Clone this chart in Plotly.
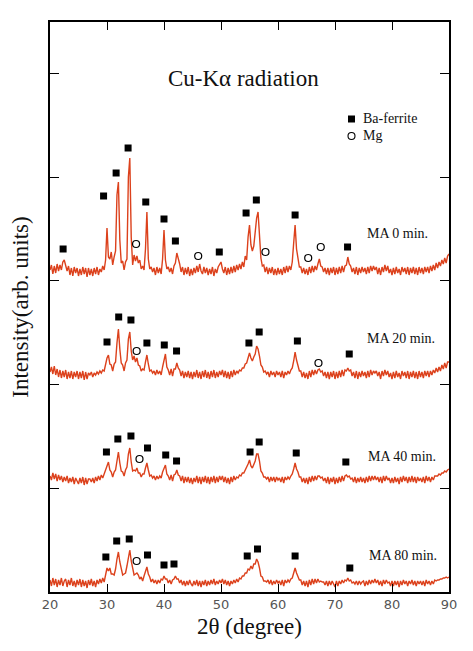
import numpy as np
import plotly.graph_objects as go

# ---------------- data ----------------
two_theta_start = 20.0
two_theta_step = 0.25
two_theta_end = 90.0

series_names = ["MA 0 min.", "MA 20 min.", "MA 40 min.", "MA 80 min."]
offsets = [319, 215, 110, 7]

ma0 = [
    3, 8, -1, 7, 0, 9, 2, 8, 3, 11, 13, 6, 2, 7, -2, 5, -3, 6, 0, 5,
    -3, 4, -2, 6, -1, 5, -4, 5, -2, 4, -3, 5, -1, 6, -2, 4, 1, 7, 3, 13,
    45, 16, 14, 21, 8, 16, 22, 78, 91, 33, 10, 12, 3, 11, 14, 96, 115, 36, 8, 18,
    12, 17, 10, 13, 4, 7, 3, 24, 61, 14, 4, 6, 1, 5, -2, 6, 0, 5, -1, 14,
    43, 13, 4, 6, 1, 5, -1, 7, 10, 20, 15, 9, 1, 6, -2, 5, -1, 6, -3, 4,
    -2, 5, 0, 7, 1, 9, 2, -1, 6, 0, 5, -2, 4, -1, 6, -3, 4, 0, 6, 8,
    11, 4, 0, 6, -2, 5, -1, 6, 0, 7, 1, 8, 3, 9, 4, 11, 6, 17, 13, 36,
    48, 28, 22, 27, 42, 55, 61, 30, 15, 7, 8, 1, 6, -1, 5, 0, 6, -2, 4, -2,
    5, -1, 4, -2, 6, 0, 7, 1, 7, 3, 11, 30, 48, 24, 14, 6, 6, 0, 5, -1,
    4, -2, 6, 0, 7, 1, 7, 3, 9, 14, 7, 6, 1, 5, -1, 5, -2, 5, 0, 6,
    -2, 5, -1, 6, 0, 7, 1, 7, 8, 16, 9, 7, 1, 5, -1, 6, -2, 5, 0, 6,
    1, 5, -1, 6, 0, 7, 2, 7, 3, 6, -1, 5, -2, 6, 1, 8, 2, 7, 0, 4,
    -2, 5, -1, 6, 0, 4, -2, 6, 1, 5, -1, 6, -2, 5, 0, 6, -1, 5, -2, 6,
    0, 5, -1, 6, 1, 6, 0, 7, 2, 8, 3, 10, 5, 11, 7, 13, 9, 15, 10, 17,
    19,
]

ma20 = [
    5, 10, 3, 11, 2, 8, 0, 7, -1, 6, 0, 7, -2, 5, -1, 6, -2, 5, 0, 6,
    -2, 5, -1, 6, -3, 5, -2, 4, 2, 5, 0, 4, 2, 5, 3, 6, 4, 7, 6, 13,
    19, 22, 13, 12, 6, 13, 15, 34, 48, 28, 14, 12, 6, 14, 17, 38, 45, 26, 17, 21,
    15, 19, 12, 11, 6, 8, 7, 15, 22, 13, 6, 7, 4, 6, 2, 7, 3, 6, 2, 10,
    18, 23, 10, 7, 2, 8, 1, 8, 8, 14, 9, 7, 1, 6, -1, 5, 0, 6, -1, 5,
    -2, 5, 0, 7, -1, 5, -2, 6, 0, 7, -1, 5, -2, 6, 0, 7, -1, 5, 0, 6,
    2, 7, 0, 6, -1, 5, -2, 6, 0, 7, 2, 6, 4, 7, 6, 9, 9, 13, 14, 20,
    24, 19, 16, 20, 23, 31, 28, 21, 12, 10, 5, 6, 3, 5, 0, 6, 2, 5, 0, 6,
    2, 5, 0, 6, -1, 5, 2, 6, 3, 7, 9, 16, 25, 17, 12, 6, 6, 0, 5, -1,
    4, -2, 6, 0, 7, 2, 7, 3, 7, 8, 5, 6, 1, 5, -1, 5, -2, 5, 0, 6,
    -2, 5, -1, 6, 0, 7, 1, 7, 6, 9, 6, 7, 1, 5, -1, 6, -2, 5, 0, 6,
    1, 5, -1, 6, 0, 7, 2, 6, 4, 6, 1, 5, -2, 6, 1, 7, 2, 6, 0, 4,
    -2, 5, -1, 6, 0, 4, -2, 6, 1, 5, -1, 6, -2, 5, 0, 6, -1, 5, -2, 6,
    0, 5, -1, 6, 1, 6, 0, 6, 2, 7, 4, 9, 5, 10, 6, 12, 8, 14, 9, 15,
    15,
]

ma40 = [
    6, 2, 9, 3, 8, 1, 7, 2, 6, 0, 5, 1, 6, -1, 4, 0, 5, -2, 4, 0,
    -2, 4, -1, 5, -3, 4, -2, 3, 3, 0, 4, -1, 5, 1, 6, 2, 7, 4, 9, 12,
    16, 20, 12, 10, 5, 10, 12, 24, 30, 19, 11, 10, 6, 12, 15, 28, 34, 20, 11, 12,
    11, 14, 9, 9, 5, 8, 8, 14, 19, 12, 6, 7, 4, 6, 2, 6, 3, 6, 4, 10,
    14, 17, 8, 6, 2, 7, 1, 7, 8, 12, 7, 6, 1, 6, -1, 5, 0, 5, -1, 4,
    -2, 4, 0, 6, -1, 5, -2, 5, 0, 6, -1, 5, -2, 5, 0, 6, -1, 5, 0, 6,
    2, 6, 0, 5, -1, 4, -2, 5, 0, 6, 2, 5, 4, 7, 6, 9, 9, 12, 14, 18,
    22, 16, 14, 18, 21, 28, 28, 21, 11, 9, 5, 5, 3, 5, 0, 5, 1, 5, 0, 5,
    2, 4, 0, 5, -1, 5, 2, 5, 3, 6, 8, 13, 19, 13, 10, 5, 5, 0, 4, -1,
    4, -2, 5, 0, 6, 1, 6, 2, 6, 6, 4, 5, 1, 4, -1, 5, -2, 4, 0, 5,
    -2, 4, -1, 5, 0, 6, 1, 6, 7, 5, 6, 3, 4, 0, 5, -1, 4, 0, 5, 0,
    4, -1, 5, 0, 6, 1, 6, 2, 6, 2, 5, 0, 5, -1, 6, 1, 6, 2, 4, -1,
    4, -1, 5, 0, 4, -2, 5, 0, 6, 1, 5, -1, 5, 0, 6, 0, 5, -1, 5, 1,
    4, 0, 5, -1, 6, 1, 5, 0, 5, 2, 6, 6, 6, 8, 7, 9, 9, 11, 10, 12,
    13,
]

ma80 = [
    5, -1, 7, 0, 6, -2, 5, 0, 7, -1, 4, 6, -2, 5, 0, 7, -1, 4, -2, 5,
    0, 6, -2, 5, -1, 4, -3, 5, 0, 6, -1, 4, -2, 5, 1, 6, 2, 7, 3, 9,
    17, 14, 17, 11, 11, 10, 16, 26, 33, 23, 16, 10, 11, 12, 19, 29, 35, 24, 16, 10,
    11, 12, 10, 6, 8, 4, 9, 14, 18, 11, 8, 3, 6, 2, 5, 1, 5, 2, 6, 5,
    9, 6, 6, 2, 5, 1, 5, 6, 9, 6, 6, 2, 5, 0, 4, -1, 4, 0, 5, 1,
    -1, 4, 0, 5, -1, 4, -2, 4, 0, 5, -1, 4, 0, 5, 1, 6, 0, 4, 1, 5,
    2, 6, 1, 5, 0, 4, -1, 4, 1, 5, 2, 6, 3, 7, 6, 9, 9, 12, 12, 16,
    15, 19, 16, 21, 21, 26, 23, 17, 9, 8, 4, 4, 3, 5, 1, 5, 0, 4, 1, 5,
    2, 4, 0, 5, -1, 5, 2, 5, 3, 6, 7, 12, 17, 12, 9, 5, 5, 0, 4, -1,
    4, -2, 5, 0, 6, 1, 6, 2, 6, 3, 4, 3, 3, 0, 4, -1, 4, 0, 4, 1,
    -2, 4, -1, 4, 1, 5, 2, 5, 4, 7, 4, 5, 2, 3, 1, 4, 0, 4, 1, 3,
    4, -1, 4, 0, 5, 1, 5, 2, 6, 2, 5, 0, 4, -1, 5, 1, 5, 2, 3, -1,
    4, -1, 4, 0, 4, -2, 4, 0, 5, 1, 4, -1, 4, 1, 5, 0, 4, -1, 4, 1,
    4, 0, 4, -1, 5, 1, 4, 0, 4, 1, 5, 4, 5, 5, 6, 6, 7, 7, 8, 7,
    8,
]

patterns = [ma0, ma20, ma40, ma80]

# peak identification markers (2theta, intensity)
baf_x = [22.3, 29.4, 31.6, 33.7, 36.8, 40.0, 42.0, 49.7, 54.4, 56.2, 63.0, 72.2,
         30.0, 32.05, 34.2, 37.0, 40.05, 42.2, 54.9, 56.7, 63.4, 72.5,
         29.9, 31.9, 34.2, 37.1, 40.3, 42.2, 55.1, 56.7, 63.2, 71.9,
         29.8, 31.7, 33.9, 37.1, 40.0, 41.75, 54.6, 56.4, 63.0, 72.6]
baf_y = [343, 396, 419, 444, 390, 373, 351, 340, 379, 392, 377, 345,
         250, 275, 272, 249, 247, 241, 249, 260, 251, 238,
         140, 153, 156, 144, 137, 131, 140, 150, 139, 130,
         35, 51, 53, 37, 27, 28, 36, 43, 36, 24]
mg_x = [35.1, 46.0, 57.8, 65.3, 67.5, 35.2, 67.1, 35.7, 35.2]
mg_y = [348, 336, 340, 334, 345, 241, 229, 133, 31]

label_x = [80.9, 81.6, 81.75, 82.0]
label_y = [359, 254, 136, 37]

x_ticks = [20, 30, 40, 50, 60, 70, 80, 90]

# ---------------- figure ----------------
two_theta = np.arange(two_theta_start, two_theta_end + two_theta_step / 2, two_theta_step)
line_color = "#dc411c"
serif = "Liberation Serif, Times New Roman, serif"

fig = go.Figure()
for name, vals, off in zip(series_names, patterns, offsets):
    fig.add_trace(go.Scatter(
        x=two_theta, y=np.array(vals, dtype=float) + off, mode="lines",
        line=dict(color=line_color, width=1.4), name=name, showlegend=False,
        hoverinfo="skip"))

fig.add_trace(go.Scatter(x=baf_x, y=baf_y, mode="markers", name="Ba-ferrite",
                         marker=dict(symbol="square", size=7, color="black"),
                         showlegend=False))
fig.add_trace(go.Scatter(x=mg_x, y=mg_y, mode="markers", name="Mg",
                         marker=dict(symbol="circle-open", size=7, color="black",
                                     line=dict(width=1.2)),
                         showlegend=False))

annotations = []
for name, lx, ly in zip(series_names, label_x, label_y):
    annotations.append(dict(x=lx, y=ly, xref="x", yref="y", text=name, showarrow=False,
                            xanchor="center", yanchor="middle",
                            font=dict(family=serif, size=14, color="#111")))

L, R, T, B = 50, 24, 22, 59
W, H = 473, 651
pw, ph = W - L - R, H - T - B


def px_to_paper(px, py):
    return (px - L) / pw, (H - B - py) / ph


tx, ty = px_to_paper(243, 79)
annotations.append(dict(x=tx, y=ty, xref="paper", yref="paper", text="Cu-K\u03b1 radiation",
                        showarrow=False, xanchor="center", yanchor="middle",
                        font=dict(family=serif, size=23, color="#111")))
bx, by = px_to_paper(361, 119)
annotations.append(dict(x=bx, y=by, xref="paper", yref="paper", text="Ba-ferrite",
                        showarrow=False, xanchor="left", yanchor="middle",
                        font=dict(family=serif, size=14, color="#111")))
mx, my = px_to_paper(361, 136)
annotations.append(dict(x=mx, y=my, xref="paper", yref="paper", text="Mg",
                        showarrow=False, xanchor="left", yanchor="middle",
                        font=dict(family=serif, size=14, color="#111")))

shapes = []
sx0, sy0 = px_to_paper(348, 122.5)
sx1, sy1 = px_to_paper(355, 115.5)
shapes.append(dict(type="rect", xref="paper", yref="paper", x0=sx0, y0=sy0, x1=sx1, y1=sy1,
                   fillcolor="black", line=dict(width=0)))
cx0, cy0 = px_to_paper(348, 139.5)
cx1, cy1 = px_to_paper(355, 132.5)
shapes.append(dict(type="circle", xref="paper", yref="paper", x0=cx0, y0=cy0, x1=cx1, y1=cy1,
                   fillcolor="rgba(0,0,0,0)", line=dict(color="black", width=1.1)))

fig.update_layout(
    width=W, height=H,
    margin=dict(l=L, r=R, t=T, b=B),
    paper_bgcolor="white", plot_bgcolor="white",
    annotations=annotations, shapes=shapes,
    showlegend=False,
)
fig.update_xaxes(
    range=[20, 90], tickvals=x_ticks, ticktext=[str(v) for v in x_ticks],
    ticks="inside", ticklen=8, tickwidth=1.2, tickcolor="black",
    showline=True, linecolor="black", linewidth=1.5, mirror="allticks",
    showgrid=False, zeroline=False,
    tickfont=dict(family="DejaVu Sans", size=13, color="#555"),
    title=dict(text="2\u03b8 (degree)", font=dict(family=serif, size=23, color="#111"),
               standoff=7),
)
fig.update_yaxes(
    range=[0, 570], tick0=0, dtick=103.7,
    ticks="inside", ticklen=9, tickwidth=1.2, tickcolor="black",
    showline=True, linecolor="black", linewidth=1.5, mirror="allticks",
    showgrid=False, zeroline=False, showticklabels=False,
    title=dict(text="Intensity(arb. units)", font=dict(family=serif, size=23, color="#111"),
               standoff=13),
)

fig.write_html("out.html")
